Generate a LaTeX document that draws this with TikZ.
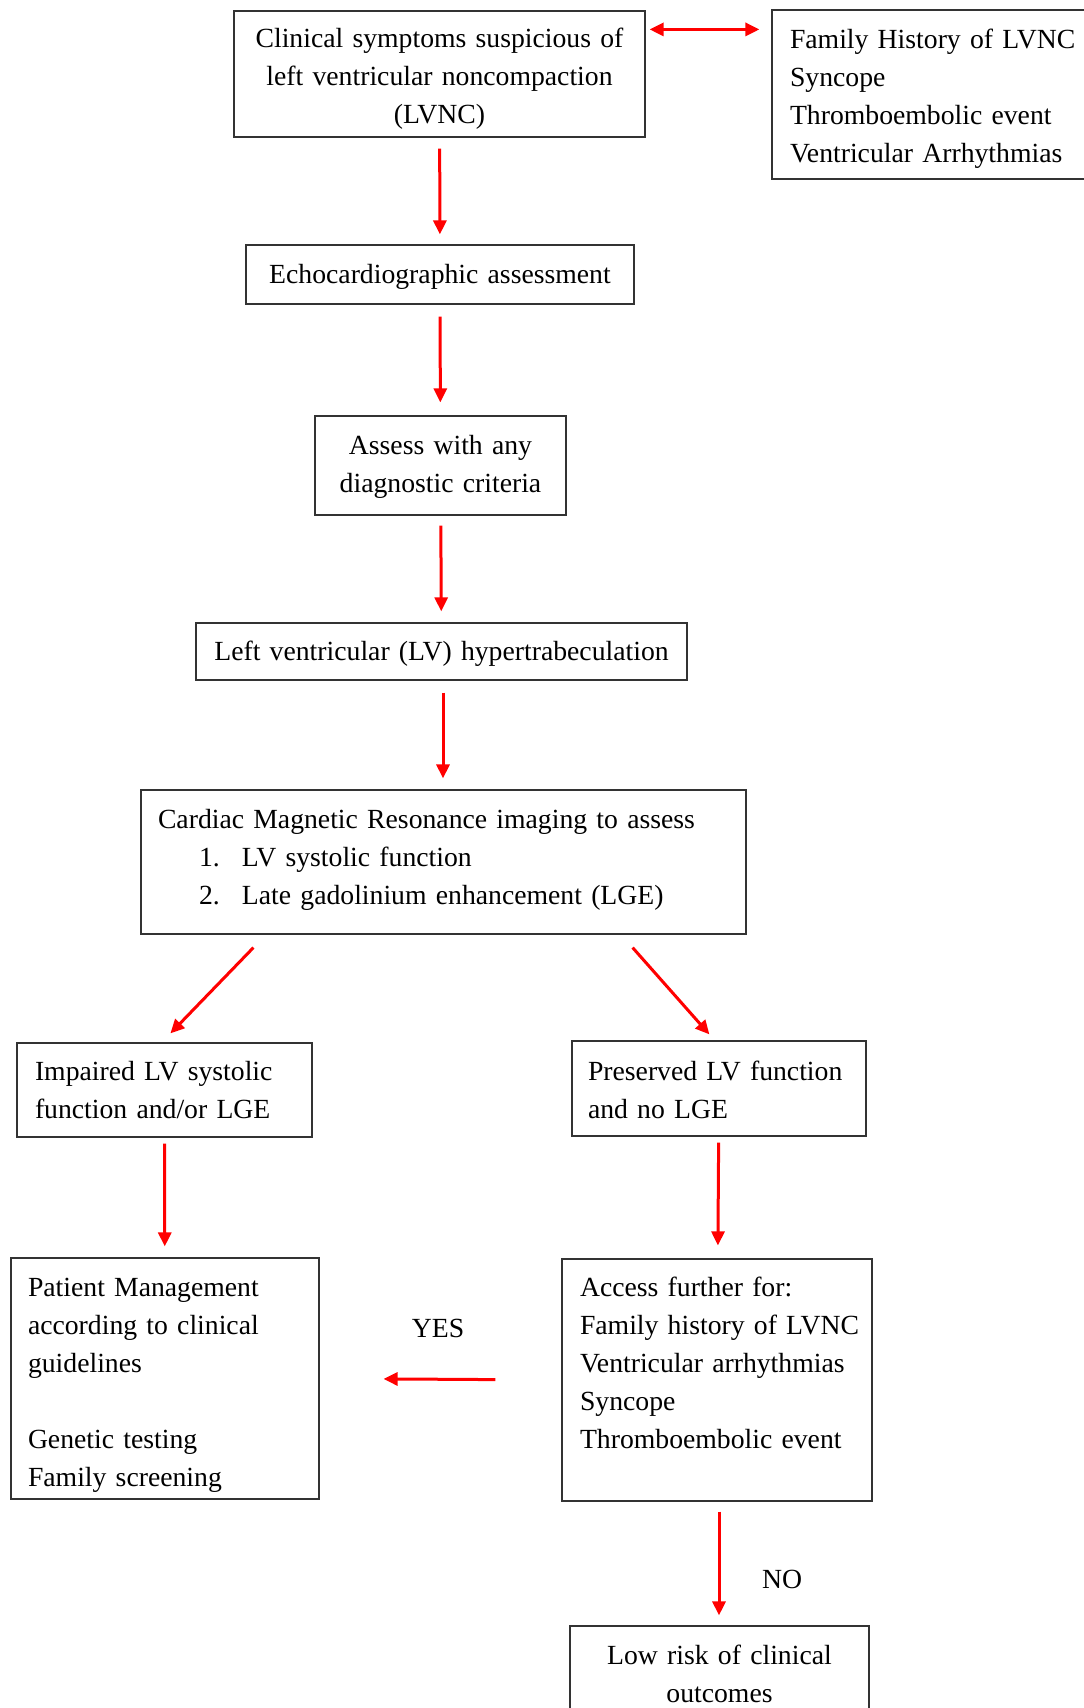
\documentclass[tikz,border=0pt]{standalone}
\usepackage{fontspec}
\setmainfont{Liberation Serif}[WordSpace=0.75]
\usetikzlibrary{arrows.meta,calc}
\newcommand\mytop[1]{\rule{0pt}{#1pt}}
\newcommand\mybot[1]{\rule[-#1pt]{0pt}{#1pt}}
\begin{document}
\begin{tikzpicture}[x=1pt,y=1pt,
  every node/.style={font=\fontsize{27.7pt}{38pt}\selectfont},
  box/.style={draw=black!80, line width=1.2pt, rectangle, inner ysep=0pt},
  arr/.style={draw=red, line width=3pt, -{Triangle[length=14pt,width=13pt]}},
  darr/.style={draw=red, line width=3pt, {Triangle[length=14pt,width=13pt]}-{Triangle[length=14pt,width=13pt]}},
  lbl/.style={inner sep=0pt}
]
\useasboundingbox (0,0) rectangle (1084,-1708);

\node[box, minimum width=411pt, minimum height=126pt, inner xsep=10pt, text width=391pt, align=center] (b1) at (439.5,-74)
  {\mytop{35}\mbox{Clinical symptoms suspicious of}\\ \mbox{left ventricular noncompaction}\\ (LVNC)\mybot{11.4}};
\node[box, minimum width=338pt, minimum height=169pt, inner xsep=18pt, text width=302pt, align=left] (rb) at (941,-94.5)
  {\mytop{33.6}\mbox{Family History of LVNC}\\ Syncope\\ \mbox{Thromboembolic event}\\ \mbox{Ventricular Arrhythmias}\mybot{11.4}};
\node[box, minimum width=388pt, minimum height=59pt, inner xsep=10pt, text width=368pt, align=center] (b2) at (440,-274.5)
  {\mytop{29.6}\mbox{Echocardiographic assessment}\mybot{11.4}};
\node[box, minimum width=251pt, minimum height=99pt, inner xsep=10pt, text width=231pt, align=center] (b3) at (440.5,-465.5)
  {\mytop{28.6}\mbox{Assess with any}\\ \mbox{diagnostic criteria}\mybot{13.4}};
\node[box, minimum width=491pt, minimum height=57pt, inner xsep=10pt, text width=471pt, align=center] (b4) at (441.5,-651.5)
  {\mytop{29.6}\mbox{Left ventricular (LV) hypertrabeculation}\mybot{11.4}};
\node[box, minimum width=605pt, minimum height=144pt, inner xsep=17pt, text width=571pt, align=left] (b5) at (443.5,-862)
  {\mytop{30.6}\mbox{Cardiac Magnetic Resonance imaging to assess}\\
   \hspace*{41pt}\makebox[43pt][l]{1.}LV systolic function\\
   \hspace*{41pt}\makebox[43pt][l]{2.}\mbox{Late gadolinium enhancement (LGE)}\mybot{21.4}};
\node[box, minimum width=295pt, minimum height=94pt, inner xsep=18pt, text width=259pt, align=left] (b6) at (164.5,-1090)
  {\mytop{30.6}\mbox{Impaired LV systolic}\\ \mbox{function and/or LGE}\mybot{11.4}};
\node[box, minimum width=294pt, minimum height=95pt, inner xsep=16pt, text width=262pt, align=left] (b7) at (719,-1088.5)
  {\mytop{33}\mbox{Preserved LV function}\\ and no LGE\mybot{11.4}};
\node[box, minimum width=308pt, minimum height=241pt, inner xsep=17pt, text width=274pt, align=left] (b8) at (165,-1378.5)
  {\mytop{36.6}\mbox{Patient Management}\\ \mbox{according to clinical}\\ guidelines\\ \mbox{}\\ \mbox{Genetic testing}\\ \mbox{Family screening}\mybot{11.4}};
\node[box, minimum width=310pt, minimum height=242pt, inner xsep=18pt, text width=274pt, align=left] (b9) at (717,-1380)
  {\mytop{35}\mbox{Access further for:}\\ \mbox{Family history of LVNC}\\ \mbox{Ventricular arrhythmias}\\ Syncope\\ \mbox{Thromboembolic event}\\ \mbox{}\mybot{11.4}};
\node[box, minimum width=299pt, minimum height=96pt, inner xsep=10pt, text width=279pt, align=center] (b10) at (719.5,-1674)
  {\mytop{30.6}\mbox{Low risk of clinical}\\ outcomes\mybot{11.4}};

\node[lbl] (yes) at (438,-1328) {YES};
\node[lbl] (no) at (782,-1579) {NO};

\draw[darr, shorten <=4pt, shorten >=12pt] ([yshift=-19pt]b1.north east) -- ([yshift=-20pt]rb.north west);
\draw[arr, shorten <=11pt, shorten >=10pt] (b1) -- (b2);
\draw[arr, shorten <=12pt, shorten >=13pt] (b2) -- (b3);
\draw[arr, shorten <=10pt, shorten >=11pt] (b3) -- (b4);
\draw[arr, shorten <=12pt, shorten >=11pt] ([xshift=1.5pt]b4.south) -- ([xshift=-0.5pt]b5.north);
\draw[arr] ([shift={(113pt,-13pt)}]b5.south west) -- ([shift={(154pt,9pt)}]b6.north west);
\draw[arr] ([shift={(-114pt,-13pt)}]b5.south east) -- ([shift={(138pt,6pt)}]b7.north west);
\draw[arr, shorten <=6pt, shorten >=11pt] (b6) -- (b8);
\draw[arr, shorten <=6pt, shorten >=13pt] (b7) -- (b9);
\draw[arr, shorten <=66pt, shorten >=64pt] (b9.west) -- (b8.east);
\draw[arr, shorten <=10pt, shorten >=10pt] ([xshift=2pt]b9.south) -- ([xshift=-0.5pt]b10.north);
\end{tikzpicture}
\end{document}
